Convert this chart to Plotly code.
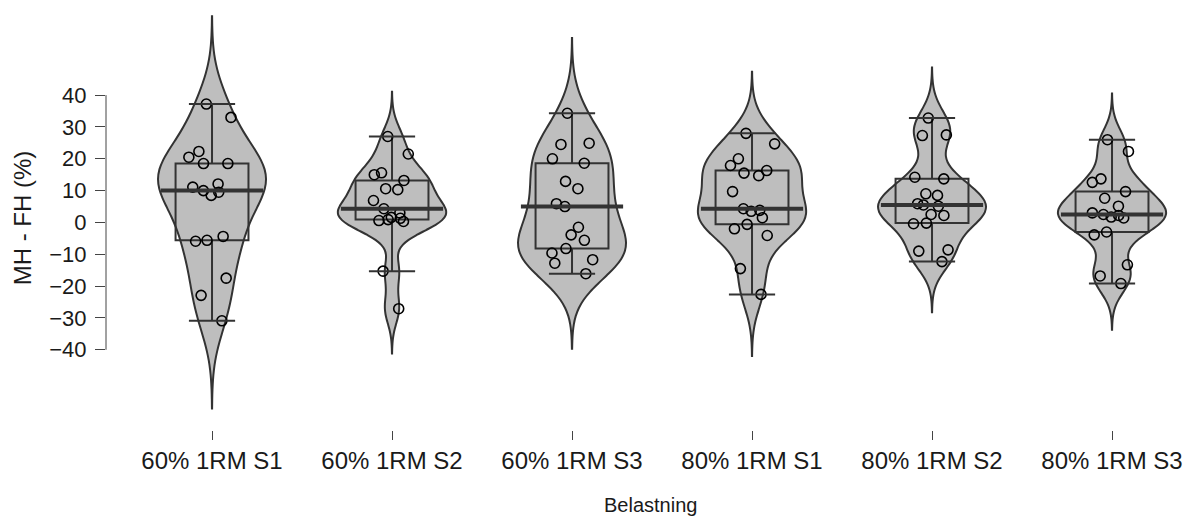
import numpy as np
import plotly.graph_objects as go

categories = ["60% 1RM S1", "60% 1RM S2", "60% 1RM S3", "80% 1RM S1", "80% 1RM S2", "80% 1RM S3"]

s60_1 = [37.2, 33.0, 22.3, 20.5, 18.5, 18.5, 12.1, 11.1, 10.0, 9.5, 8.5, -4.4, -5.6, -5.9, -17.5, -22.9, -30.9]
s60_2 = [27.0, 21.5, 15.6, 15.0, 13.2, 10.6, 10.3, 6.9, 4.3, 3.0, 1.6, 1.3, 0.9, 0.6, 0.3, -15.3, -27.1]
s60_3 = [34.3, 24.9, 24.5, 20.0, 18.6, 12.9, 10.6, 5.9, 5.0, -1.5, -3.9, -5.6, -8.2, -9.6, -11.7, -12.8, -16.1]
s80_1 = [28.0, 24.7, 20.0, 17.9, 16.3, 15.5, 14.7, 9.7, 4.3, 3.8, 3.5, 1.5, -0.6, -2.0, -4.1, -14.5, -22.6]
s80_2 = [32.8, 27.5, 27.3, 14.2, 13.7, 9.0, 8.5, 5.9, 5.5, 5.1, 2.5, 2.2, -0.2, -0.4, -8.6, -9.0, -12.3]
s80_3 = [26.0, 22.3, 13.7, 12.6, 9.7, 7.6, 5.1, 3.0, 2.5, 2.2, 1.7, 1.4, -3.0, -3.9, -13.3, -16.8, -19.2]

series = [s60_1, s60_2, s60_3, s80_1, s80_2, s80_3]
y_ticks = [-40, -30, -20, -10, 0, 10, 20, 30, 40]

FILL = "#BEBEBE"
LINE = "#333333"
FONT = "Liberation Sans, Arial, sans-serif"

fig = go.Figure()

def nrd0(v):
    v = np.asarray(v, float)
    q1, q3 = np.percentile(v, [25, 75])
    lo = min(np.std(v, ddof=1), (q3 - q1) / 1.34)
    return 0.9 * lo * len(v) ** (-0.2)

for i, vals in enumerate(series):
    bw = nrd0(vals)
    fig.add_trace(go.Violin(
        y=vals, x0=i, width=0.6, scalemode="width",
        bandwidth=bw, spanmode="manual", span=[min(vals) - 3 * bw, max(vals) + 3 * bw],
        fillcolor=FILL, line=dict(color=LINE, width=2), opacity=1,
        points=False, box_visible=False, meanline_visible=False,
        showlegend=False, hoverinfo="skip",
    ))

for i, vals in enumerate(series):
    fig.add_trace(go.Box(
        y=vals, x0=i, width=0.405, quartilemethod="inclusive",
        fillcolor="rgba(0,0,0,0)", line=dict(color=LINE, width=2),
        boxpoints="outliers", marker=dict(opacity=0, size=1),
        whiskerwidth=0, showlegend=False, hoverinfo="skip",
    ))

# whisker caps and thick median
cap_x, cap_y, med_x, med_y = [], [], [], []
for i, vals in enumerate(series):
    v = np.sort(np.asarray(vals, float))
    q1, med, q3 = np.percentile(v, [25, 50, 75])
    iqr = q3 - q1
    lo = v[v >= q1 - 1.5 * iqr].min()
    hi = v[v <= q3 + 1.5 * iqr].max()
    cap_x += [i, i]
    cap_y += [lo, hi]
    med_x.append(i)
    med_y.append(med)

fig.add_trace(go.Scatter(
    x=cap_x, y=cap_y, mode="markers",
    marker=dict(symbol="line-ew", size=33, line=dict(color=LINE, width=2)),
    showlegend=False, hoverinfo="skip"))
fig.add_trace(go.Scatter(
    x=med_x, y=med_y, mode="markers",
    marker=dict(symbol="line-ew", size=73, line=dict(color=LINE, width=4)),
    showlegend=False, hoverinfo="skip"))

for i, vals in enumerate(series):
    fig.add_trace(go.Box(
        y=vals, x0=i, width=0.6, boxpoints="all", jitter=0.5, pointpos=0,
        fillcolor="rgba(0,0,0,0)", line=dict(color="rgba(0,0,0,0)", width=0),
        marker=dict(symbol="circle-open", size=10, color="black",
                    line=dict(width=1.6, color="black")),
        showlegend=False, hoverinfo="y",
    ))

fig.add_shape(type="line", xref="paper", yref="y", x0=0, x1=0, y0=-40, y1=40,
              line=dict(color="#444444", width=1))

fig.add_annotation(text="Belastning", xref="paper", yref="paper",
                   x=(650 - 106) / 1071, y=-75 / 424, xanchor="center", yanchor="middle",
                   showarrow=False, font=dict(size=20, color="#1a1a1a"))

fig.update_layout(
    width=1187, height=516,
    margin=dict(l=106, r=10, t=6, b=86, autoexpand=False),
    paper_bgcolor="white", plot_bgcolor="white",
    boxmode="overlay", violinmode="overlay",
    font=dict(family=FONT, size=22, color="#1a1a1a"),
    xaxis=dict(
        range=[-0.589, 5.361], tickmode="array", tickvals=list(range(len(categories))),
        ticktext=categories, showgrid=False, zeroline=False, showline=False,
        ticks="outside", ticklen=9, tickcolor="#444444", tickwidth=1,
        tickfont=dict(size=24, color="#1a1a1a"), automargin=False,
    ),
    yaxis=dict(
        range=[-65.2, 68], tickmode="array", tickvals=y_ticks,
        showgrid=False, zeroline=False, showline=False,
        ticks="outside", ticklen=10, tickcolor="#444444", tickwidth=1,
        ticklabelstandoff=4,
        tickfont=dict(size=22, color="#1a1a1a"), automargin=False,
        title=dict(text="MH - FH (%)", font=dict(size=24), standoff=10),
    ),
)

fig.write_html("out.html", config={"displayModeBar": False},
               post_script="document.body.style.margin='0';")
